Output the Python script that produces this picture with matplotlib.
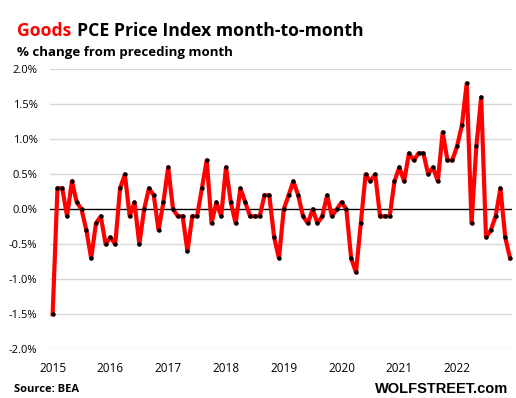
import numpy as np
import matplotlib
matplotlib.use('Agg')
import matplotlib.pyplot as plt

# Goods PCE price index, % change from preceding month, Jan 2015 - Dec 2022
years = ['2015', '2016', '2017', '2018', '2019', '2020', '2021', '2022']
pce_2015 = [-1.5, 0.3, 0.3, -0.1, 0.4, 0.1, 0.0, -0.3, -0.7, -0.2, -0.1, -0.5]
pce_2016 = [-0.4, -0.5, 0.3, 0.5, -0.1, 0.1, -0.5, 0.0, 0.3, 0.2, -0.3, 0.1]
pce_2017 = [0.6, 0.0, -0.1, -0.1, -0.6, -0.1, -0.1, 0.3, 0.7, -0.2, 0.1, -0.1]
pce_2018 = [0.6, 0.1, -0.2, 0.3, 0.1, -0.1, -0.1, -0.1, 0.2, 0.2, -0.4, -0.7]
pce_2019 = [0.0, 0.2, 0.4, 0.2, -0.1, -0.2, 0.0, -0.2, -0.1, 0.2, -0.1, 0.0]
pce_2020 = [0.1, 0.0, -0.7, -0.9, -0.2, 0.5, 0.4, 0.5, -0.1, -0.1, -0.1, 0.4]
pce_2021 = [0.6, 0.4, 0.8, 0.7, 0.8, 0.8, 0.5, 0.6, 0.4, 1.1, 0.7, 0.7]
pce_2022 = [0.9, 1.2, 1.8, -0.2, 0.9, 1.6, -0.4, -0.3, -0.1, 0.3, -0.4, -0.7]

vals = np.array(pce_2015 + pce_2016 + pce_2017 + pce_2018 +
                pce_2019 + pce_2020 + pce_2021 + pce_2022)
x = np.arange(len(vals))

plt.rcParams['font.family'] = ['Open Sans', 'DejaVu Sans']

fig = plt.figure(figsize=(5.16, 3.98), dpi=100)
ax = fig.add_axes([0.0969, 0.1224, 0.8953, 0.7035])

yticks = np.arange(-2.0, 2.01, 0.5)
for yt in yticks:
    if abs(yt) > 1e-9:
        ax.axhline(yt, color='#d9d9d9', lw=1.0, zorder=1)
ax.axhline(0, color='black', lw=1.0, zorder=2)

ax.plot(x, vals, color='#ff0000', lw=3, zorder=3)
ax.plot(x, vals, 'o', color='black', ms=2.2, zorder=4)

ax.set_ylim(-2.0, 2.0)
ax.set_xlim(-0.55, 95.4)
ax.set_yticks(yticks)
ax.set_yticklabels(['%.1f%%' % v for v in yticks], fontsize=8)
ax.set_xticks(np.arange(0, 96, 12))
ax.set_xticklabels(years, fontsize=8.5)
ax.tick_params(length=0, pad=9)
ax.tick_params(axis='x', pad=9)
for s in ax.spines.values():
    s.set_visible(False)

# title: red "Goods" followed by black text
t1 = fig.text(17/516, 1 - 36/398, 'Goods', color='#ff0000', fontsize=12.7,
              fontweight='bold')
fig.canvas.draw()
bb = t1.get_window_extent()
fig.text(bb.x1/516 + 6/516, 1 - 36/398, 'PCE Price Index month-to-month',
         color='black', fontsize=12.7, fontweight='bold')
fig.text(17/516, 1 - 56/398, '% change from preceding month', fontsize=9.5,
         fontweight='bold')

fig.text(14/516, 1 - 392/398, 'Source: BEA', fontsize=8, fontweight='bold')
fig.text(508/516, 1 - 393/398, 'WOLFSTREET.com', fontsize=10.5,
         fontweight='heavy', ha='right', family=['Liberation Sans', 'DejaVu Sans'])

fig.savefig('out.png', dpi=100)
